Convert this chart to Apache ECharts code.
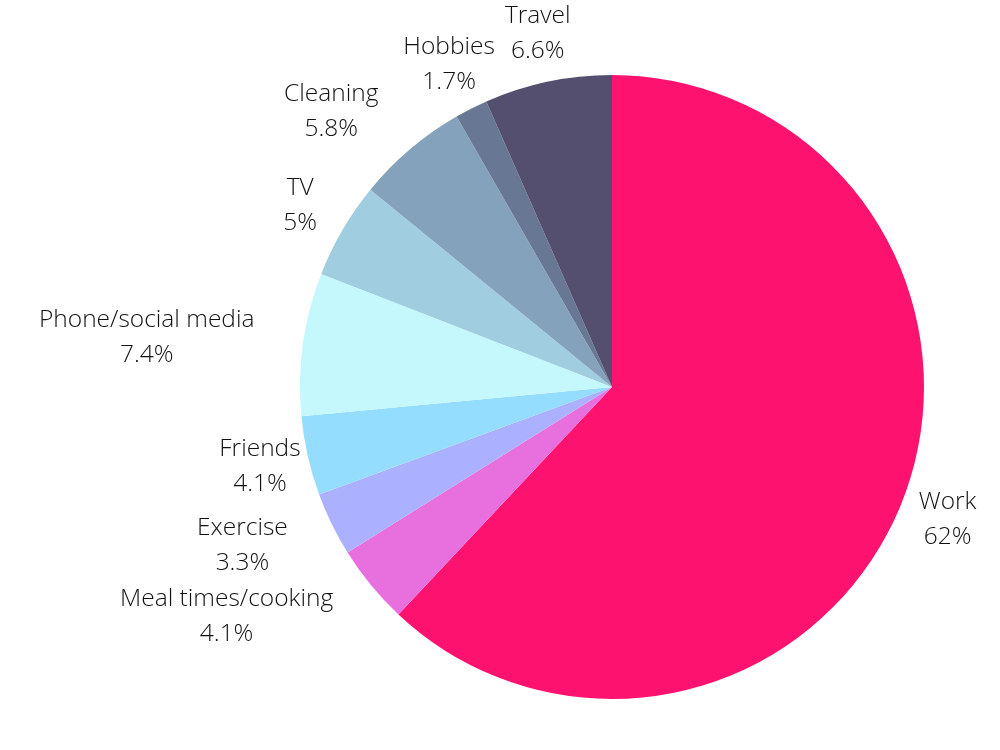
<!DOCTYPE html>
<html>
<head>
<meta charset="utf-8">
<script src="https://cdn.jsdelivr.net/npm/echarts@6/dist/echarts.min.js"></script>
<style>
  html, body { margin: 0; padding: 0; background: #fff; }
  #chart { width: 1000px; height: 750px; }
</style>
</head>
<body>
<div id="chart"></div>
<script>
var categories = ['Work', 'Meal times/cooking', 'Exercise', 'Friends', 'Phone/social media', 'TV', 'Cleaning', 'Hobbies', 'Travel'];
var shares = [62, 4.1, 3.3, 4.1, 7.4, 5, 5.8, 1.7, 6.6];
var sliceColors = ['#fe1270', '#e86fde', '#abb1ff', '#95ddff', '#c5f8fd', '#a0cde0', '#84a2bc', '#687894', '#544f6f'];

// pie geometry (pixels)
var CX = 612, CY = 387, R = 312, LABEL_GAP = 49;

var total = shares.reduce(function (a, b) { return a + b; }, 0);
// mid angle of each slice, clockwise from 12 o'clock
var midAngles = [];
var acc = 0;
shares.forEach(function (v) {
    midAngles.push((acc + v / 2) / total * Math.PI * 2);
    acc += v;
});

var chart = echarts.init(document.getElementById('chart'));

var option = {
    animation: false,
    series: [{
        type: 'pie',
        center: [CX, CY],
        radius: R,
        startAngle: 90,
        clockwise: true,
        avoidLabelOverlap: false,
        data: categories.map(function (name, i) {
            return { name: name, value: shares[i], itemStyle: { color: sliceColors[i] } };
        }),
        label: {
            show: true,
            position: 'outside',
            formatter: '{b}\n{c}%',
            fontFamily: 'Open Sans',
            fontWeight: 300,
            fontSize: 24.5,
            lineHeight: 35,
            color: '#111'
        },
        labelLine: { show: false, length: LABEL_GAP, length2: 0 },
        emphasis: { disabled: true },
        labelLayout: function (params) {
            var a = midAngles[params.dataIndex];
            var sx = Math.sin(a), sy = -Math.cos(a);
            var ax = CX + sx * (R + LABEL_GAP);
            var ay = CY + sy * (R + LABEL_GAP);
            var w = params.labelRect.width;
            var hh = params.labelRect.height / 2 - 10;
            // centred box; if it touches the pie, hang it off the anchor instead
            var x0 = ax - w / 2, x1 = ax + w / 2, y0 = ay - hh, y1 = ay + hh;
            var px = Math.max(x0, Math.min(CX, x1));
            var py = Math.max(y0, Math.min(CY, y1));
            var d = Math.sqrt((px - CX) * (px - CX) + (py - CY) * (py - CY));
            var x = ax;
            if (d < R + 4) {
                x = sx < 0 ? ax - w / 2 : ax + w / 2;
            }
            return { x: x, y: ay, align: 'center', verticalAlign: 'middle' };
        }
    }]
};

chart.setOption(option);
</script>
</body>
</html>
